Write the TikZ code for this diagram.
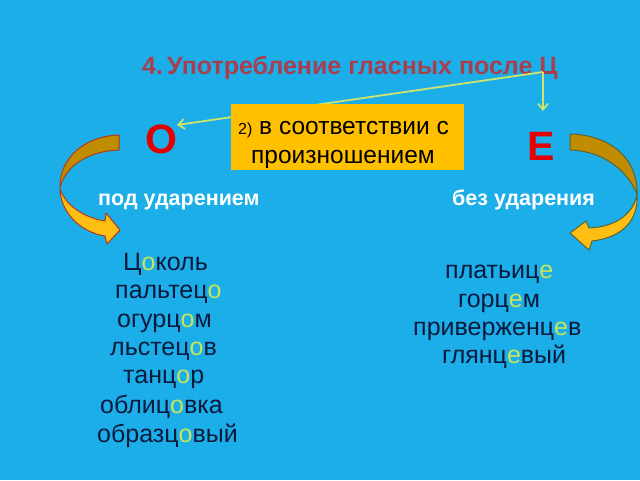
\documentclass[tikz,border=0pt]{standalone}
\usepackage{fontspec}
\setmainfont{Liberation Sans}
\usetikzlibrary{arrows.meta}
\definecolor{bg}{RGB}{28,174,232}
\definecolor{titlec}{RGB}{168,62,78}
\definecolor{boxc}{RGB}{255,192,0}
\definecolor{linec}{RGB}{205,228,110}
\definecolor{redc}{RGB}{228,0,0}
\definecolor{wordc}{RGB}{10,25,60}
\definecolor{hlc}{RGB}{200,228,90}
\definecolor{darkpart}{RGB}{192,140,0}
\definecolor{brightpart}{RGB}{255,190,20}
\definecolor{outl}{RGB}{176,58,26}
\definecolor{outr}{RGB}{90,100,50}
\newcommand\hl[1]{\textcolor{hlc}{#1}}
\tikzset{
  word/.style={anchor=base west,inner sep=0pt,text=wordc,font=\fontsize{25}{28}\selectfont},
  sub/.style={anchor=base west,inner sep=0pt,text=white,font=\bfseries\fontsize{21.5}{24}\selectfont},
  letter/.style={anchor=base west,inner sep=0pt,text=redc,font=\bfseries\fontsize{41}{44}\selectfont},
  pointer/.style={draw=linec,line width=1.8pt,-{Straight Barb[length=6pt,width=10pt]}},
}
\begin{document}
\begin{tikzpicture}[x=1pt,y=-1pt]
\fill[bg] (0,0) rectangle (640,480);
\useasboundingbox (0,0) rectangle (640,480);
% title
\node[anchor=base west,inner sep=0pt,text=titlec,font=\bfseries\fontsize{25}{28}\selectfont] (title) at (142,74) {4.\,Употребление гласных после Ц};
% pointers
\coordinate (src) at (543,72);
\coordinate (otip) at (177,125);
\coordinate (etip) at (543,111);
\draw[pointer] (src) -- (otip);
\draw[pointer] (src) -- (etip);
% box
\node[draw=none,fill=boxc,minimum width=233pt,minimum height=66pt,inner sep=0pt] (box) at (347.5,137) {};
\node[anchor=base west,inner sep=0pt,font=\fontsize{24.5}{28}\selectfont] (b1) at (238,134) {{\fontsize{16}{18}\selectfont 2)} в соответствии с};
\node[anchor=base west,inner sep=0pt,font=\fontsize{24.5}{28}\selectfont] (b2) at (251,163) {произношением};
% letters
\node[letter] (O) at (145,153) {О};
\node[letter] (E) at (527,160) {Е};
\node[sub] (pu) at (98,205) {под ударением};
\node[sub] (bu) at (452,205) {без ударения};
% left curved arrow
\filldraw[fill=darkpart,draw=outl,line width=1pt,line join=round]
  (119,135) .. controls (85,136) and (59,158) .. (60,188)
  .. controls (65,166) and (88,151) .. (119,150) -- cycle;
\filldraw[fill=brightpart,draw=outl,line width=1pt,line join=round]
  (60,188) .. controls (60,212) and (80,232) .. (105,236)
  -- (107,244) -- (120,230) -- (106,213) -- (105,221)
  .. controls (85,218) and (64,205) .. (60,188) -- cycle;
% right curved arrow
\filldraw[fill=darkpart,draw=outr,line width=1pt,line join=round]
  (570,134) .. controls (612,135) and (638,160) .. (637,194)
  .. controls (628,172) and (605,151) .. (570,150) -- cycle;
\filldraw[fill=brightpart,draw=outr,line width=1pt,line join=round]
  (637,194) .. controls (634,214) and (615,227) .. (589,228)
  -- (586,221) -- (570,233) -- (589,250) -- (592,241)
  .. controls (620,238) and (639,222) .. (637,194) -- cycle;
% left words
\node[word] (w1) at (123,270) {Ц\hl{о}коль};
\node[word] (w2) at (115,298) {пальтец\hl{о}};
\node[word] (w3) at (117,327) {огурц\hl{о}м};
\node[word] (w4) at (110,355) {льстец\hl{о}в};
\node[word] (w5) at (123,383) {танц\hl{о}р};
\node[word] (w6) at (100,413) {облиц\hl{о}вка};
\node[word] (w7) at (97,442) {образц\hl{о}вый};
% right words
\node[word] (r1) at (445,278) {платьиц\hl{е}};
\node[word] (r2) at (458,307) {горц\hl{е}м};
\node[word] (r3) at (413,335) {приверженц\hl{е}в};
\node[word] (r4) at (442,363) {глянц\hl{е}вый};
\end{tikzpicture}
\end{document}
